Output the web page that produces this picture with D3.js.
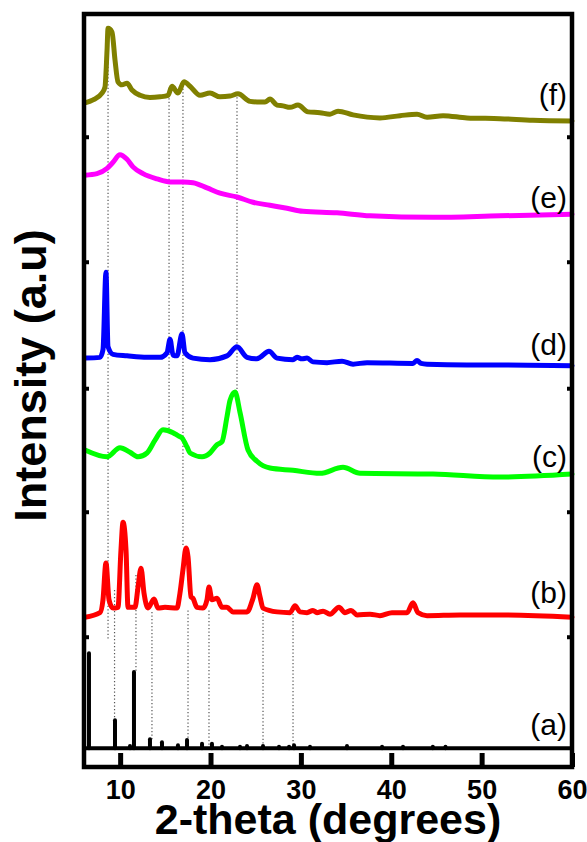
<!DOCTYPE html>
<html>
<head>
<meta charset="utf-8">
<script src="https://cdn.jsdelivr.net/npm/d3@7"></script>
<style>
  html, body { margin: 0; padding: 0; background: #fff; }
  svg { display: block; font-family: "Liberation Sans", Arial, sans-serif; }
</style>
</head>
<body>
<div id="chart"></div>
<script>
/* Stacked XRD patterns (a)-(f) with dotted guide lines at the reference
   reflections. Intensities are arbitrary units on one shared stacked scale. */

// 2-theta (deg) / stacked intensity (a.u.)
var seriesF = [[6.11,88.2],[7.0,88.6],[7.99,89.5],[8.32,90.3],[8.55,95.2],[8.66,98.1],[9.10,97.6],
  [9.43,93.9],[9.76,91.0],[10.20,90.6],[10.76,90.8],[11.31,89.9],[12.20,89.2],[13.30,88.9],
  [14.41,89.0],[15.30,89.2],[15.74,90.4],[16.40,89.5],[17.07,91.0],[17.73,90.4],[18.84,89.2],
  [19.94,89.5],[21.05,89.0],[22.16,89.1],[23.04,89.4],[24.37,88.4],[25.48,88.3],[26.03,88.3],
  [26.58,88.7],[27.36,87.9],[28.02,87.8],[28.80,87.6],[29.68,87.9],[30.79,87.0],[32.11,86.9],
  [33.22,86.7],[34.11,87.1],[35.77,86.6],[38.75,86.2],[40.97,86.5],[42.85,86.7],[43.96,86.3],
  [45.73,86.5],[48.38,86.2],[52.03,86.1],[55.68,85.9],[60.0,85.8]];

var seriesE = [[6.11,78.6],[7.44,78.8],[8.55,79.5],[9.21,80.3],[9.98,81.3],[10.76,80.7],[11.42,79.7],
  [12.53,78.8],[14.08,78.1],[15.52,77.7],[16.95,77.7],[18.06,77.6],[19.61,76.9],[21.05,76.2],
  [22.93,75.7],[24.70,75.0],[26.58,74.6],[28.46,74.2],[30.23,73.8],[34.00,73.6],[37.65,73.2],
  [44.62,73.0],[52.03,73.2],[60.0,73.4]];

var seriesD = [[6.11,54.3],[7.77,54.4],[8.10,55.4],[8.43,65.7],[8.66,55.8],[9.21,54.8],[10.76,54.6],
  [12.97,54.4],[14.41,54.4],[15.18,55.0],[15.52,56.8],[15.85,54.7],[16.29,54.6],[16.84,57.5],
  [17.18,55.0],[18.06,54.3],[19.94,54.1],[21.82,54.6],[22.93,55.8],[24.04,54.4],[25.14,54.2],
  [25.48,54.4],[26.47,55.2],[27.36,54.3],[29.13,54.1],[29.57,54.4],[30.12,54.2],[30.68,54.3],
  [31.34,53.8],[32.89,53.7],[34.55,53.9],[35.77,53.5],[37.32,53.7],[42.40,53.6],[42.85,54.0],
  [43.30,53.6],[43.96,53.5],[48.38,53.4],[52.03,53.4],[60.0,53.3]];

var seriesC = [[6.11,42.1],[8.55,41.2],[9.98,42.4],[11.09,41.8],[11.98,41.2],[12.97,41.7],[13.86,43.4],
  [14.74,44.8],[15.85,44.4],[16.40,44.0],[16.84,43.7],[17.40,42.5],[17.73,41.7],[19.06,41.2],
  [19.94,41.7],[20.72,42.8],[21.27,43.2],[21.82,46.5],[22.16,48.7],[22.71,49.8],[23.26,47.1],
  [24.15,42.1],[25.14,40.6],[26.58,39.7],[29.13,39.4],[32.11,39.0],[34.66,39.8],[36.54,39.0],
  [44.62,38.9],[52.03,38.5],[60.0,38.9]];

var seriesB = [[6.11,19.9],[7.77,20.5],[8.10,22.2],[8.43,27.1],[8.77,22.2],[9.21,21.1],[9.76,21.2],
  [10.09,28.8],[10.32,32.5],[10.65,28.8],[10.87,21.2],[11.64,21.2],[11.98,23.9],[12.31,26.4],
  [12.64,23.1],[13.08,21.1],[13.75,22.3],[14.19,21.1],[14.96,21.2],[16.29,21.1],[16.62,23.1],
  [16.95,26.2],[17.29,29.1],[17.51,27.9],[17.84,22.6],[18.06,22.4],[18.50,21.2],[19.17,21.1],
  [19.61,22.2],[19.83,23.9],[20.16,22.2],[20.72,22.4],[21.27,21.2],[21.82,21.2],[22.49,20.6],
  [24.04,20.6],[24.70,22.4],[25.14,24.2],[25.48,22.6],[25.81,21.1],[27.36,20.6],[28.80,20.5],
  [29.35,21.4],[29.90,20.6],[30.68,20.5],[31.34,20.8],[31.78,20.5],[32.45,20.7],[33.22,20.3],
  [34.22,21.2],[34.88,20.5],[35.55,20.8],[36.21,20.2],[37.65,20.3],[38.75,20.1],[40.08,20.5],
  [41.74,20.5],[42.41,21.8],[42.96,20.5],[43.96,20.1],[47.61,20.2],[52.03,20.2],[60.0,19.9]];

// (a) reference pattern: stick positions and heights above its baseline
var sticksA = [[6.55,12.6],[9.43,3.7],[11.09,0.3],[11.53,10.1],[13.30,1.2],[14.63,0.8],[16.40,0.4],
  [17.40,1.1],[19.06,0.6],[20.16,0.6],[21.27,0.2],[23.26,0.2],[24.04,0.3],[25.81,0.3],[27.58,0.2],
  [28.69,0.2],[29.24,0.4],[31.01,0.2],[35.10,0.3],[38.98,0.2],[41.30,0.2],[44.60,0.2],[46.00,0.2]];
var baseA = 2.5;

// dotted guides: 2-theta, from / to intensity
var guides = [[8.66,98.1,16.9],[15.41,90.2,44.5],[16.95,91.0,29.2],[22.93,89.4,49.8],
  [9.38,23.5,6.2],[11.75,25.5,12.5],[13.52,20.6,3.6],[17.51,20.8,3.3],[19.83,20.8,2.7],
  [25.81,20.5,2.7],[29.13,20.8,2.7]];

var labels = ["(a)", "(b)", "(c)", "(d)", "(e)", "(f)"];
var xTicks = [10, 20, 30, 40, 50, 60];
var yTicks = [17.3, 33.9, 50.3, 67.1, 83.7];

(function () {
  var W = 587, H = 842;
  var m = { left: 84, right: 15, top: 14, bottom: 75 };
  var iw = W - m.left - m.right, ih = H - m.top - m.bottom;

  var svg = d3.select("#chart").append("svg")
    .attr("width", W).attr("height", H);
  var g = svg.append("g").attr("transform", "translate(" + m.left + "," + m.top + ")");

  var x = d3.scaleLinear().domain([6, 60]).range([0, iw]);
  var y = d3.scaleLinear().domain([0, 100]).range([ih, 0]);

  // guides behind the curves
  g.append("g").selectAll("line").data(guides).join("line")
    .attr("x1", function (d) { return x(d[0]); }).attr("x2", function (d) { return x(d[0]); })
    .attr("y1", function (d) { return y(d[1]); }).attr("y2", function (d) { return y(d[2]); })
    .attr("stroke", "#555").attr("stroke-width", 1.2).attr("stroke-dasharray", "1.3,2.2");

  var line = d3.line()
    .x(function (d) { return x(d[0]); })
    .y(function (d) { return y(d[1]); })
    .curve(d3.curveMonotoneX);

  var curves = [
    { data: seriesB, color: "#ff0000" },
    { data: seriesC, color: "#00ff00" },
    { data: seriesD, color: "#0000ff" },
    { data: seriesE, color: "#ff00ff" },
    { data: seriesF, color: "#808000" }
  ];
  g.append("g").selectAll("path").data(curves).join("path")
    .attr("d", function (d) { return line(d.data); })
    .attr("fill", "none")
    .attr("stroke", function (d) { return d.color; })
    .attr("stroke-width", 5)
    .attr("stroke-linejoin", "round")
    .attr("stroke-linecap", "round");

  // (a) sticks
  var ga = g.append("g").attr("stroke", "#000").attr("stroke-width", 4);
  ga.append("line")
    .attr("x1", x(6)).attr("x2", x(60))
    .attr("y1", y(baseA)).attr("y2", y(baseA));
  ga.selectAll("line.stick").data(sticksA).join("line").attr("class", "stick")
    .attr("x1", function (d) { return x(d[0]); }).attr("x2", function (d) { return x(d[0]); })
    .attr("y1", y(baseA)).attr("y2", function (d) { return y(baseA + d[1]); })
    .attr("stroke-linecap", "round");

  // series labels, just above each trace's right end
  var ends = [baseA, seriesB[seriesB.length - 1][1], seriesC[seriesC.length - 1][1],
    seriesD[seriesD.length - 1][1], seriesE[seriesE.length - 1][1], seriesF[seriesF.length - 1][1]];
  var labelDy = [-13, -14, -7, -11, -6, -16];
  g.append("g").selectAll("text").data(labels).join("text")
    .attr("x", iw - 5)
    .attr("y", function (d, i) { return y(ends[i]) + labelDy[i]; })
    .attr("text-anchor", "end")
    .attr("font-size", 30)
    .attr("fill", "#000")
    .text(function (d) { return d; });

  // axes: inward ticks, frame drawn separately
  var xAxis = g.append("g").attr("transform", "translate(0," + ih + ")")
    .call(d3.axisBottom(x).tickValues(xTicks).tickSize(-14).tickPadding(13)
      .tickFormat(d3.format("d")));
  xAxis.select(".domain").remove();
  xAxis.selectAll(".tick line").attr("stroke", "#000").attr("stroke-width", 5);
  xAxis.selectAll(".tick text")
    .attr("font-size", 27).attr("font-weight", "bold")
    .attr("font-family", "'Liberation Sans', Arial, sans-serif").attr("fill", "#000");

  [d3.axisLeft(y), d3.axisRight(y)].forEach(function (ax, i) {
    var a = g.append("g").attr("transform", "translate(" + (i ? iw : 0) + ",0)")
      .call(ax.tickValues(yTicks).tickSize(-5).tickFormat(""));
    a.select(".domain").remove();
    a.selectAll(".tick line").attr("stroke", "#000").attr("stroke-width", 4);
  });

  g.append("rect")
    .attr("width", iw).attr("height", ih)
    .attr("fill", "none").attr("stroke", "#000").attr("stroke-width", 4.5);

  svg.append("text")
    .attr("x", m.left + x(33)).attr("y", 834)
    .attr("text-anchor", "middle")
    .attr("font-size", 43).attr("font-weight", "bold")
    .text("2-theta (degrees)");

  svg.append("text")
    .attr("transform", "translate(46," + (m.top + ih / 2 - 15) + ") rotate(-90)")
    .attr("text-anchor", "middle")
    .attr("font-size", 45).attr("font-weight", "bold")
    .text("Intensity (a.u)");
})();
</script>
</body>
</html>
